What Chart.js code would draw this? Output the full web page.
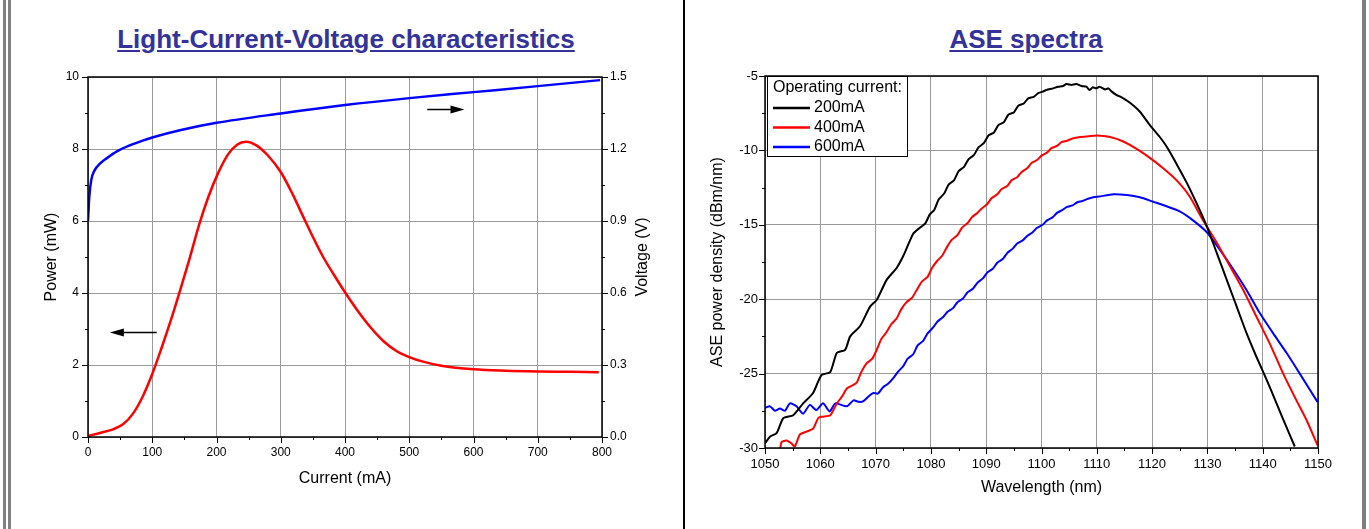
<!DOCTYPE html>
<html>
<head>
<meta charset="utf-8">
<script src="https://cdn.jsdelivr.net/npm/chart.js@4/dist/chart.umd.min.js"></script>
<style>
html, body { margin: 0; padding: 0; background: #fff; }
#page { position: relative; width: 1369px; height: 529px; overflow: hidden; font-family: "Liberation Sans", Arial, sans-serif; }
.box { position: absolute; top: 0; width: 684px; height: 529px; }
.bar { position: absolute; top: 0; height: 529px; }
.title { position: absolute; top: 24px; font-weight: bold; font-size: 26px; color: #333399; text-decoration: underline; text-align: center; white-space: nowrap; }
</style>
</head>
<body>
<div id="page">
  <div class="title" style="left:0;width:692px">Light-Current-Voltage characteristics</div>
  <div class="title" style="left:685px;width:682px">ASE spectra</div>
  <div class="box" style="left:0"><canvas id="liv"></canvas></div>
  <div class="box" style="left:685px"><canvas id="ase"></canvas></div>
  <div class="bar" style="left:3px;width:3px;background:#808080"></div>
  <div class="bar" style="left:8px;width:3px;background:#808080"></div>
  <div class="bar" style="left:683px;width:2px;background:#000"></div>
  <div class="bar" style="left:1362px;width:4px;background:#808080"></div>
</div>
<script>
// ---- L-I-V data (current in mA) ----
var currentP = [0, 20, 40, 55, 70, 85, 100, 115, 130, 143, 158, 173, 188, 203, 218, 232, 246, 262, 280, 300, 318, 336, 351, 366, 383, 400, 420, 440, 460, 480, 500, 520, 550, 600, 650, 700, 750, 795];
var power    = [0.03, 0.12, 0.22, 0.36, 0.65, 1.12, 1.75, 2.5, 3.3, 4.05, 4.95, 5.9, 6.7, 7.35, 7.85, 8.12, 8.2, 8.1, 7.82, 7.36, 6.76, 6.08, 5.52, 5.0, 4.5, 4.02, 3.5, 3.04, 2.66, 2.39, 2.22, 2.1, 1.98, 1.88, 1.84, 1.82, 1.81, 1.8];
var currentV = [0, 2, 5, 10, 19, 30, 45, 65, 85, 100, 143, 200, 300, 400, 500, 600, 700, 797];
var voltage  = [0.9, 1.0, 1.07, 1.11, 1.14, 1.163, 1.19, 1.215, 1.235, 1.248, 1.278, 1.309, 1.348, 1.383, 1.412, 1.437, 1.462, 1.487];

var currentTicks = [0, 50, 100, 150, 200, 250, 300, 350, 400, 450, 500, 550, 600, 650, 700, 750, 800];
var powerTicks   = [0, 1, 2, 3, 4, 5, 6, 7, 8, 9, 10];
var voltTicks    = [0, 0.15, 0.3, 0.45, 0.6, 0.75, 0.9, 1.05, 1.2, 1.35, 1.5];
var voltLabels   = ['0.0', '', '0.3', '', '0.6', '', '0.9', '', '1.2', '', '1.5'];

// arrows marking which axis belongs to which curve (data units of x / left y)
var arrowPower = { from: 107, to: 34, level: 2.92 };
var arrowVolt  = { from: 528, to: 586, level: 9.1 };

// ---- ASE spectra data (nm, dBm/nm) ----
var wl200 = [1050, 1050.9, 1052.1, 1053.3, 1055.1, 1056.9, 1058.7, 1060.2, 1061.8, 1063.0, 1064.5, 1065.4, 1067.2, 1069.0, 1070.2, 1072.0, 1073.8, 1075.0, 1076.8, 1078.0, 1079.0, 1079.8, 1080.6, 1081.4, 1082.4, 1083.2, 1084.2, 1085.0, 1086.0, 1086.8, 1087.8, 1088.6, 1089.6, 1090.4, 1091.4, 1092.2, 1093.2, 1094.0, 1095.0, 1095.8, 1096.8, 1097.6, 1098.6, 1099.4, 1100.2, 1100.9, 1102.1, 1103.0, 1103.9, 1104.5, 1105.4, 1106.3, 1107.2, 1108.1, 1108.7, 1109.3, 1109.9, 1110.5, 1111.5, 1112.1, 1112.7, 1113.6, 1114.5, 1116.0, 1117.8, 1119.6, 1121.4, 1122.9, 1124.4, 1126.3, 1128.1, 1129.9, 1131.7, 1133.5, 1135.3, 1137.1, 1138.9, 1140.7, 1142.5, 1144.3, 1145.8];
var p200  = [-29.7, -29.24, -29.0, -28.0, -27.8, -27.0, -26.3, -25.1, -24.9, -23.6, -23.4, -22.5, -21.8, -20.5, -20.05, -18.7, -17.9, -17.1, -15.6, -15.2, -14.9, -14.3, -14.0, -13.3, -12.9, -12.3, -12.0, -11.4, -11.1, -10.6, -10.3, -9.8, -9.5, -9.0, -8.8, -8.3, -8.1, -7.6, -7.45, -7.0, -6.85, -6.5, -6.4, -6.15, -6.05, -5.94, -5.83, -5.72, -5.67, -5.54, -5.6, -5.54, -5.67, -5.72, -5.94, -5.76, -5.83, -5.72, -5.9, -5.83, -6.05, -6.28, -6.43, -6.8, -7.4, -8.3, -9.1, -9.9, -10.9, -12.2, -13.6, -15.1, -16.9, -18.7, -20.5, -22.3, -23.9, -25.4, -27.0, -28.6, -29.9];
var wl400 = [1052.7, 1053.0, 1053.9, 1054.8, 1055.4, 1056.3, 1057.5, 1058.7, 1059.6, 1060.2, 1061.8, 1063.0, 1064.0, 1064.8, 1065.8, 1066.6, 1067.4, 1068.4, 1069.4, 1070.2, 1071.0, 1072.0, 1072.8, 1073.8, 1074.6, 1075.6, 1076.6, 1077.4, 1078.4, 1079.4, 1080.2, 1081.2, 1082.0, 1082.9, 1083.8, 1084.8, 1085.6, 1086.6, 1087.4, 1088.4, 1089.2, 1090.2, 1091.0, 1092.0, 1092.8, 1093.8, 1094.6, 1095.6, 1096.4, 1097.4, 1098.2, 1099.2, 1100.0, 1101.0, 1101.8, 1102.8, 1103.6, 1104.6, 1105.6, 1107.0, 1108.5, 1110.0, 1112.4, 1114.8, 1117.2, 1119.6, 1122.0, 1124.4, 1126.8, 1129.2, 1131.7, 1134.1, 1136.5, 1138.9, 1141.3, 1143.7, 1146.1, 1147.9, 1149.9];
var p400  = [-30.2, -29.6, -29.5, -29.7, -29.9, -29.1, -28.9, -28.7, -28.0, -27.9, -27.8, -27.0, -26.5, -26.0, -25.8, -25.6, -24.9, -24.3, -24.0, -23.4, -22.7, -22.2, -21.7, -21.3, -20.7, -20.2, -19.9, -19.4, -18.8, -18.5, -17.9, -17.4, -17.1, -16.5, -16.0, -15.7, -15.2, -14.9, -14.5, -14.2, -13.9, -13.6, -13.2, -12.95, -12.6, -12.4, -12.0, -11.8, -11.45, -11.2, -10.85, -10.65, -10.35, -10.15, -9.85, -9.7, -9.45, -9.35, -9.2, -9.1, -9.05, -9.0, -9.1, -9.4, -9.9, -10.5, -11.2, -12.0, -13.1, -14.7, -16.2, -17.8, -19.4, -21.2, -23.0, -25.0, -26.8, -28.1, -29.8];
var wl600 = [1050.0, 1050.9, 1051.8, 1052.7, 1053.6, 1054.5, 1055.7, 1056.9, 1058.1, 1059.3, 1060.5, 1061.7, 1062.7, 1064.8, 1066.0, 1067.0, 1067.8, 1068.8, 1069.6, 1070.4, 1071.4, 1072.2, 1073.2, 1074.0, 1075.0, 1075.8, 1076.8, 1077.6, 1078.6, 1079.4, 1080.4, 1081.2, 1082.2, 1083.0, 1084.0, 1084.8, 1085.8, 1086.6, 1087.6, 1088.4, 1089.4, 1090.2, 1091.2, 1092.0, 1093.0, 1093.8, 1094.8, 1095.6, 1096.6, 1097.4, 1098.4, 1099.2, 1100.2, 1101.0, 1102.0, 1102.8, 1103.8, 1104.6, 1105.6, 1106.4, 1107.4, 1108.4, 1109.4, 1110.4, 1113.0, 1115.4, 1117.8, 1120.2, 1122.6, 1125.0, 1127.4, 1129.9, 1132.3, 1134.7, 1137.1, 1139.5, 1141.9, 1144.3, 1146.7, 1149.9];
var p600  = [-27.3, -27.2, -27.5, -27.35, -27.5, -27.0, -27.2, -27.7, -27.1, -27.45, -27.0, -27.55, -27.0, -27.2, -26.8, -26.9, -26.85, -26.5, -26.3, -26.35, -25.9, -25.7, -25.3, -24.9, -24.5, -24.0, -23.7, -23.1, -22.8, -22.3, -21.9, -21.5, -21.2, -20.85, -20.6, -20.2, -19.95, -19.55, -19.3, -18.9, -18.6, -18.2, -17.95, -17.55, -17.3, -16.9, -16.6, -16.25, -16.05, -15.75, -15.5, -15.2, -15.0, -14.7, -14.5, -14.2, -14.0, -13.8, -13.7, -13.5, -13.4, -13.25, -13.15, -13.1, -12.95, -13.0, -13.15, -13.45, -13.75, -14.1, -14.7, -15.5, -16.7, -18.0, -19.4, -20.95, -22.3, -23.6, -25.0, -26.9];

var aseLabels = ['200mA', '400mA', '600mA'];
var aseColors = ['#000000', '#ff0000', '#0000ff'];
var wlTicks  = [1050, 1055, 1060, 1065, 1070, 1075, 1080, 1085, 1090, 1095, 1100, 1105, 1110, 1115, 1120, 1125, 1130, 1135, 1140, 1145, 1150];
var dbTicks  = [-30, -27.5, -25, -22.5, -20, -17.5, -15, -12.5, -10, -7.5, -5];

Chart.defaults.font.family = '"Liberation Sans", Arial, sans-serif';
Chart.defaults.color = '#000';
Chart.defaults.animation = false;

function pts(xs, ys) {
    return xs.map(function (x, i) { return { x: x, y: ys[i] }; });
}
function setTicks(values) {
    return function (scale) { scale.ticks = values.map(function (v) { return { value: v }; }); };
}
var gridGray = '#9a9a9a';
var clear = 'rgba(0,0,0,0)';

// outward tick marks (long for labelled, short for minor) + black plot frame
var frame = {
    id: 'frame',
    afterDraw: function (chart) {
        var ctx = chart.ctx, a = chart.chartArea;
        ctx.save();
        ctx.strokeStyle = '#000';
        ctx.lineWidth = 1;
        Object.values(chart.scales).forEach(function (s) {
            s.ticks.forEach(function (t) {
                var len = t.label !== '' ? 6 : 3;
                var p = Math.round(s.getPixelForValue(t.value)) + 0.5;
                ctx.beginPath();
                if (s.position === 'bottom') { ctx.moveTo(p, a.bottom); ctx.lineTo(p, a.bottom + len); }
                else if (s.position === 'left') { ctx.moveTo(a.left, p); ctx.lineTo(a.left - len, p); }
                else { ctx.moveTo(a.right, p); ctx.lineTo(a.right + len, p); }
                ctx.stroke();
            });
        });
        ctx.lineWidth = 1.5;
        ctx.strokeRect(a.left, a.top, a.right - a.left, a.bottom - a.top);
        ctx.restore();
    }
};

var livExtras = {
    id: 'livExtras',
    afterDraw: function (chart) {
        var ctx = chart.ctx, a = chart.chartArea, sx = chart.scales.x, sy = chart.scales.y;
        ctx.save();
        [arrowPower, arrowVolt].forEach(function (ar) {
            var x0 = sx.getPixelForValue(ar.from), x1 = sx.getPixelForValue(ar.to);
            var y = Math.round(sy.getPixelForValue(ar.level)) + 0.5;
            var dir = x1 > x0 ? 1 : -1;
            ctx.strokeStyle = '#000';
            ctx.fillStyle = '#000';
            ctx.lineWidth = 1.5;
            ctx.beginPath();
            ctx.moveTo(x0, y);
            ctx.lineTo(x1 - dir * 10, y);
            ctx.stroke();
            ctx.beginPath();
            ctx.moveTo(x1, y);
            ctx.lineTo(x1 - dir * 14, y - 4);
            ctx.lineTo(x1 - dir * 14, y + 4);
            ctx.closePath();
            ctx.fill();
        });
        // right axis title, reading upward like the left one
        ctx.translate(a.right + 41, (a.top + a.bottom) / 2);
        ctx.rotate(-Math.PI / 2);
        ctx.font = '16px "Liberation Sans", Arial, sans-serif';
        ctx.textAlign = 'center';
        ctx.textBaseline = 'middle';
        ctx.fillText('Voltage (V)', 0, 0);
        ctx.restore();
    }
};

new Chart(document.getElementById('liv'), {
    type: 'line',
    data: {
        datasets: [{
            label: 'Power',
            data: pts(currentP, power),
            yAxisID: 'y',
            borderColor: '#ff0000',
            borderWidth: 2.5,
            pointRadius: 0,
            cubicInterpolationMode: 'monotone'
        }, {
            label: 'Voltage',
            data: pts(currentV, voltage),
            yAxisID: 'y1',
            borderColor: '#0000ff',
            borderWidth: 2.5,
            pointRadius: 0,
            cubicInterpolationMode: 'monotone'
        }]
    },
    options: {
        responsive: true,
        maintainAspectRatio: false,
        layout: { padding: { top: 77, left: 0, right: 0, bottom: 0 } },
        plugins: { legend: { display: false }, tooltip: { enabled: false } },
        scales: {
            x: {
                type: 'linear', min: 0, max: 800,
                afterBuildTicks: setTicks(currentTicks),
                afterFit: function (s) { s.height = 92; },
                ticks: {
                    autoSkip: false, maxRotation: 0, padding: 8, font: { size: 12 },
                    callback: function (v) { return v % 100 === 0 ? String(v) : ''; }
                },
                grid: {
                    drawTicks: false,
                    color: function (c) { return c.tick && c.tick.value % 100 === 0 ? gridGray : clear; }
                },
                border: { display: false },
                title: { display: true, text: 'Current (mA)', font: { size: 16 }, padding: { top: 0, bottom: 41 } }
            },
            y: {
                position: 'left', min: 0, max: 10,
                afterBuildTicks: setTicks(powerTicks),
                afterFit: function (s) { s.width = 88; },
                ticks: {
                    autoSkip: false, padding: 9, font: { size: 12 },
                    callback: function (v) { return v % 2 === 0 ? String(v) : ''; }
                },
                grid: {
                    drawTicks: false,
                    color: function (c) { return c.tick && c.tick.value % 2 === 0 ? gridGray : clear; }
                },
                border: { display: false },
                title: { display: true, text: 'Power (mW)', font: { size: 16 }, padding: { top: 42, bottom: 0 } }
            },
            y1: {
                position: 'right', min: 0, max: 1.5,
                afterBuildTicks: setTicks(voltTicks),
                afterFit: function (s) { s.width = 82; },
                ticks: {
                    autoSkip: false, padding: 8, font: { size: 12 },
                    callback: function (v, i) { return voltLabels[i]; }
                },
                grid: { drawTicks: false, drawOnChartArea: false },
                border: { display: false }
            }
        }
    },
    plugins: [frame, livExtras]
});

var aseLegend = {
    id: 'aseLegend',
    afterDatasetsDraw: function (chart) {
        var ctx = chart.ctx, a = chart.chartArea;
        var bx = a.left + 2, by = a.top, bw = 140, bh = 80;
        ctx.save();
        ctx.fillStyle = '#fff';
        ctx.fillRect(bx, by, bw, bh);
        ctx.strokeStyle = '#000';
        ctx.lineWidth = 1;
        ctx.strokeRect(bx + 0.5, by + 0.5, bw, bh);
        ctx.font = '16px "Liberation Sans", Arial, sans-serif';
        ctx.textBaseline = 'middle';
        ctx.fillStyle = '#000';
        ctx.fillText('Operating current:', bx + 6, by + 12);
        chart.data.datasets.forEach(function (ds, i) {
            var y = by + 32 + i * 19.5;
            ctx.strokeStyle = ds.borderColor;
            ctx.lineWidth = 2.5;
            ctx.beginPath();
            ctx.moveTo(bx + 6, y);
            ctx.lineTo(bx + 43, y);
            ctx.stroke();
            ctx.fillStyle = '#000';
            ctx.fillText(ds.label, bx + 47, y);
        });
        ctx.restore();
    }
};

var aseSets = [pts(wl200, p200), pts(wl400, p400), pts(wl600, p600)];

new Chart(document.getElementById('ase'), {
    type: 'line',
    data: {
        datasets: aseSets.map(function (d, i) {
            return {
                label: aseLabels[i],
                data: d,
                borderColor: aseColors[i],
                borderWidth: 2,
                pointRadius: 0,
                tension: 0.2
            };
        })
    },
    options: {
        responsive: true,
        maintainAspectRatio: false,
        layout: { padding: { top: 76, left: 0, right: 51, bottom: 0 } },
        plugins: { legend: { display: false }, tooltip: { enabled: false } },
        scales: {
            x: {
                type: 'linear', min: 1050, max: 1150,
                afterBuildTicks: setTicks(wlTicks),
                afterFit: function (s) { s.height = 81; },
                ticks: {
                    autoSkip: false, maxRotation: 0, padding: 9, font: { size: 13 },
                    callback: function (v) { return v % 10 === 0 ? String(v) : ''; }
                },
                grid: {
                    drawTicks: false,
                    color: function (c) { return c.tick && c.tick.value % 10 === 0 ? gridGray : clear; }
                },
                border: { display: false },
                title: { display: true, text: 'Wavelength (nm)', font: { size: 16 }, padding: { top: 0, bottom: 32 } }
            },
            y: {
                position: 'left', min: -30, max: -5,
                afterBuildTicks: setTicks(dbTicks),
                afterFit: function (s) { s.width = 80; },
                ticks: {
                    autoSkip: false, padding: 7, font: { size: 13 },
                    callback: function (v) { return v % 5 === 0 ? String(v) : ''; }
                },
                grid: {
                    drawTicks: false,
                    color: function (c) { return c.tick && c.tick.value % 5 === 0 ? gridGray : clear; }
                },
                border: { display: false },
                title: { display: true, text: 'ASE power density (dBm/nm)', font: { size: 16 }, padding: { top: 23, bottom: 0 } }
            }
        }
    },
    plugins: [aseLegend, frame]
});
</script>
</body>
</html>
